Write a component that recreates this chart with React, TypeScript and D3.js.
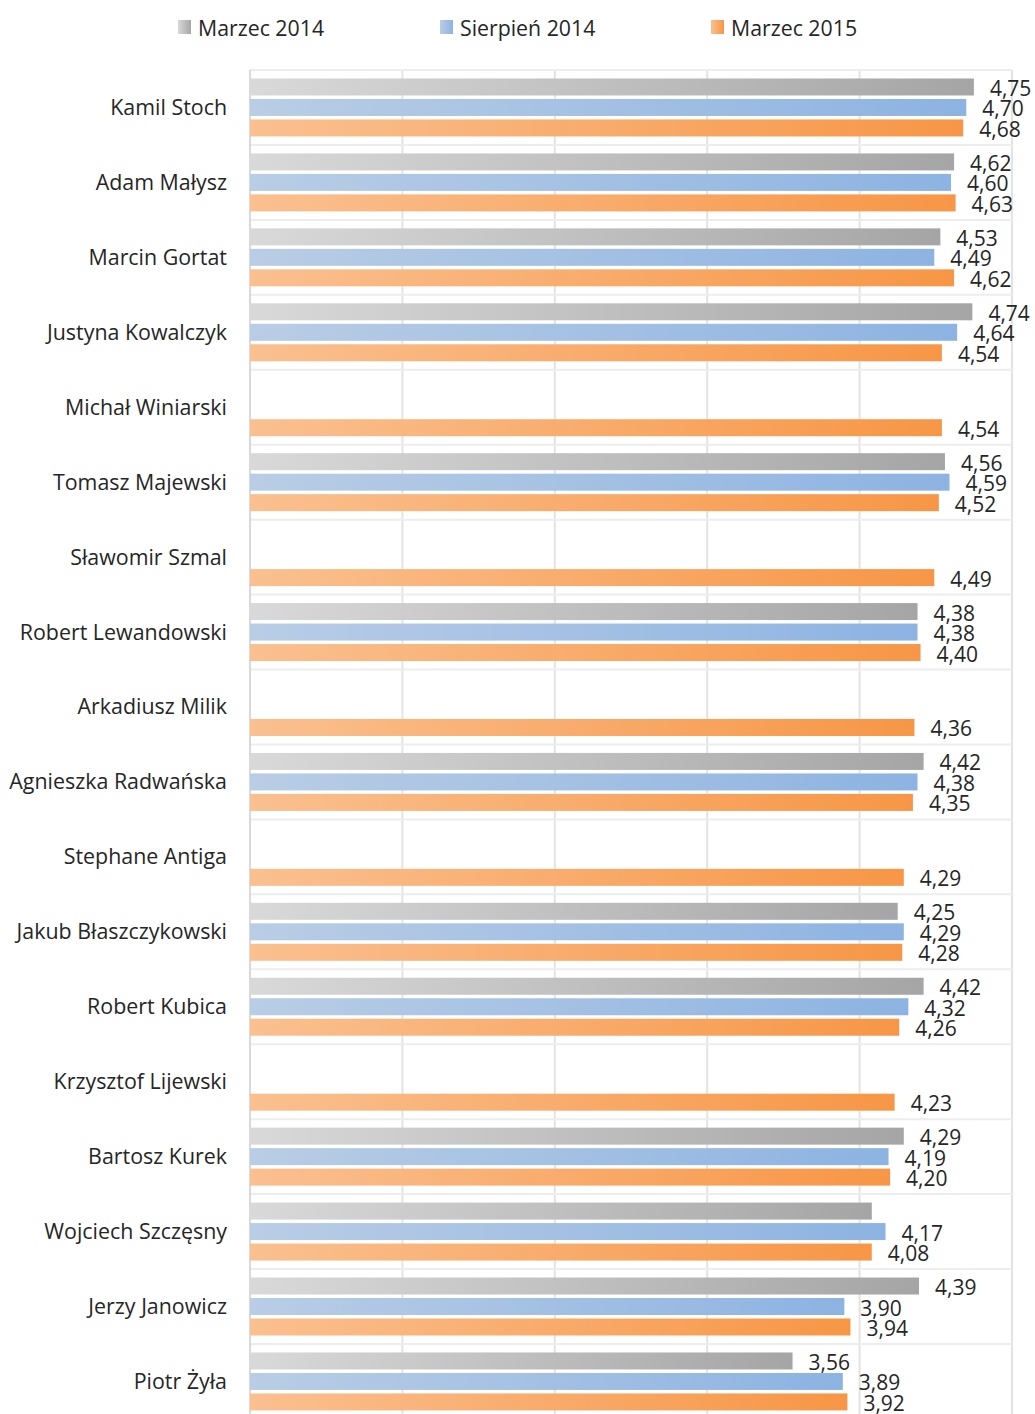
import React, { useEffect } from "react";
import * as d3 from "d3";

const categories = [
  "Kamil Stoch",
  "Adam Małysz",
  "Marcin Gortat",
  "Justyna Kowalczyk",
  "Michał Winiarski",
  "Tomasz Majewski",
  "Sławomir Szmal",
  "Robert Lewandowski",
  "Arkadiusz Milik",
  "Agnieszka Radwańska",
  "Stephane Antiga",
  "Jakub Błaszczykowski",
  "Robert Kubica",
  "Krzysztof Lijewski",
  "Bartosz Kurek",
  "Wojciech Szczęsny",
  "Jerzy Janowicz",
  "Piotr Żyła",
];

const seriesNames = ["Marzec 2014", "Sierpień 2014", "Marzec 2015"];

const marzec2014: (number | null)[] = [
  4.75, 4.62, 4.53, 4.74, null, 4.56, null, 4.38, null, 4.42, null, 4.25, 4.42, null, 4.29, 4.08, 4.39, 3.56,
];
const sierpien2014: (number | null)[] = [
  4.7, 4.6, 4.49, 4.64, null, 4.59, null, 4.38, null, 4.38, null, 4.29, 4.32, null, 4.19, 4.17, 3.9, 3.89,
];
const marzec2015: (number | null)[] = [
  4.68, 4.63, 4.62, 4.54, 4.54, 4.52, 4.49, 4.4, 4.36, 4.35, 4.29, 4.28, 4.26, 4.23, 4.2, 4.08, 3.94, 3.92,
];
// data labels not shown in the reference: [seriesIndex, categoryIndex]
const hiddenLabels: [number, number][] = [[0, 15]];

const xTicks = [0, 1, 2, 3, 4, 5];

const seriesValues = [marzec2014, sierpien2014, marzec2015];
const gradients = [
  { id: "g0", from: "#d9d9d9", to: "#a5a5a5" },
  { id: "g1", from: "#b9cde5", to: "#8db3e2" },
  { id: "g2", from: "#fac090", to: "#f79646" },
];

const W = 1035;
const H = 1414;
const FONT = "'Open Sans', 'Noto Sans', sans-serif";

export default function App() {
  useEffect(() => {
    document.body.style.margin = "0";
  }, []);

  const left = 250;
  const right = 1012;
  const top = 70;
  const band = 74.94;

  const x = d3.scaleLinear().domain([0, 5]).range([left, right]);
  const y = d3
    .scaleBand<string>()
    .domain(categories)
    .range([top, top + band * categories.length])
    .padding(0);
  const ys = d3
    .scaleBand<string>()
    .domain(seriesNames)
    .range([0, y.bandwidth()])
    .paddingInner(0.17)
    .paddingOuter(0.414);

  const fmt = (v: number) => d3.format(".2f")(v).replace(".", ",");
  const isHidden = (s: number, c: number) => hiddenLabels.some(([a, b]) => a === s && b === c);

  const legendX = [178, 440, 711];

  return (
    <svg
      width={W}
      height={H}
      style={{ position: "absolute", left: 0, top: 0, display: "block", background: "#fff" }}
      fontFamily={FONT}
    >
      <defs>
        {gradients.map((g) => (
          <linearGradient key={g.id} id={g.id} x1="0" x2="1" y1="0" y2="0">
            <stop offset="0%" stopColor={g.from} />
            <stop offset="100%" stopColor={g.to} />
          </linearGradient>
        ))}
      </defs>

      {/* legend */}
      {seriesNames.map((s, i) => (
        <g key={s}>
          <rect x={legendX[i]} y={20} width={13} height={14} fill={`url(#${gradients[i].id})`} />
          <text x={legendX[i] + 20} y={27} dominantBaseline="central" fontSize={21.3} fill="#262626">
            {s}
          </text>
        </g>
      ))}

      {/* gridlines */}
      {xTicks.map((t) => (
        <line key={t} x1={x(t)} x2={x(t)} y1={top} y2={H} stroke="#e3e3e3" strokeWidth={2} />
      ))}
      {d3.range(categories.length + 1).map((i) => (
        <line
          key={i}
          x1={left}
          x2={right}
          y1={top + i * band}
          y2={top + i * band}
          stroke="#ededed"
          strokeWidth={2}
        />
      ))}
      <line x1={left} x2={left} y1={top} y2={H} stroke="#d9d9d9" strokeWidth={2} />

      {/* bars */}
      {categories.map((c, ci) => (
        <g key={c} transform={`translate(0,${y(c)})`}>
          <text
            x={227}
            y={y.bandwidth() / 2 - 1}
            textAnchor="end"
            dominantBaseline="central"
            fontSize={21.4}
            fill="#262626"
          >
            {c}
          </text>
          {seriesNames.map((s, si) => {
            const v = seriesValues[si][ci];
            if (v == null) return null;
            const by = ys(s)!;
            return (
              <g key={s}>
                <rect
                  x={x(0)}
                  y={by}
                  width={x(v) - x(0)}
                  height={ys.bandwidth()}
                  fill={`url(#${gradients[si].id})`}
                />
                {!isHidden(si, ci) && (
                  <text
                    x={x(v) + 16}
                    y={by + ys.bandwidth() / 2 + 1}
                    dominantBaseline="central"
                    fontSize={21}
                    fill="#262626"
                  >
                    {fmt(v)}
                  </text>
                )}
              </g>
            );
          })}
        </g>
      ))}
    </svg>
  );
}
